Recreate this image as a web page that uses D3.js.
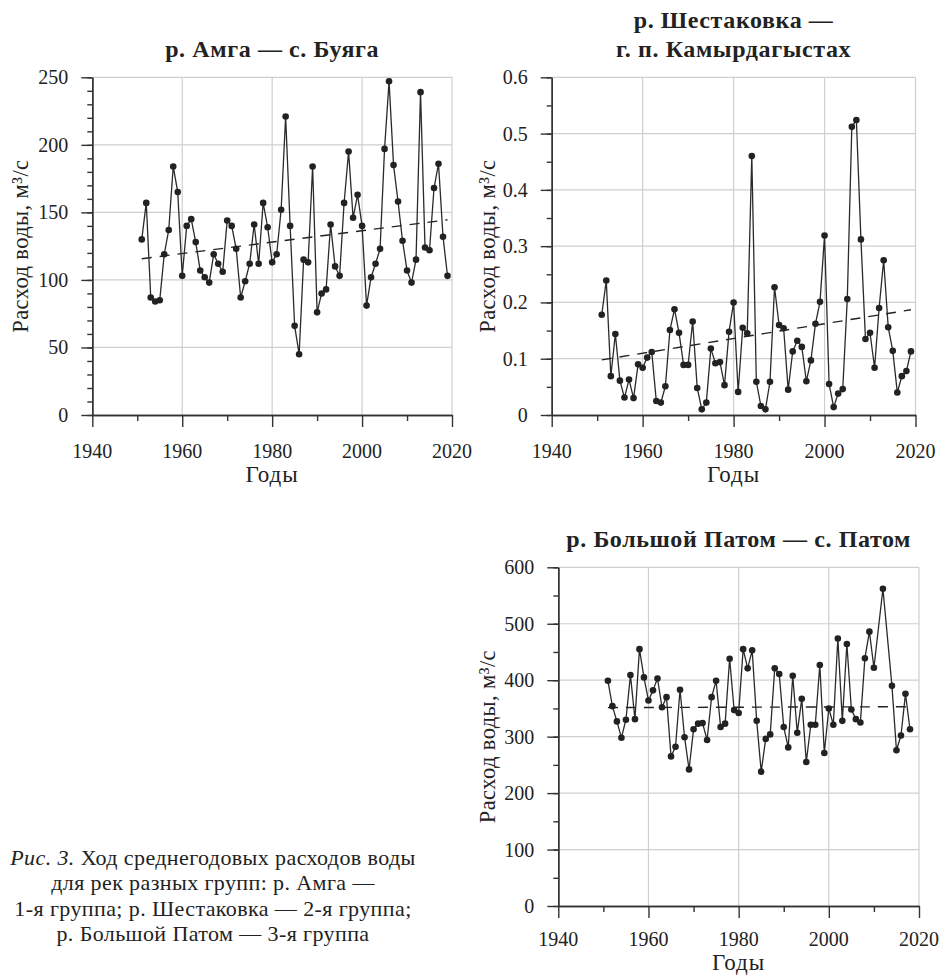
<!DOCTYPE html>
<html>
<head>
<meta charset="UTF-8">
<title>Ход среднегодовых расходов воды</title>
<style>
    body { margin: 0; padding: 0; background: #fff; }
</style>
</head>
<body>
<svg width="940" height="976" font-family="'Liberation Serif', 'Times New Roman', 'DejaVu Serif', serif"></svg>
<script src="https://cdn.jsdelivr.net/npm/d3@7/dist/d3.min.js"></script>
<script>
    // р. Амга — с. Буяга
    var amgaYears = [1951,1952,1953,1954,1955,1956,1957,1958,1959,1960,
        1961,1962,1963,1964,1965,1966,1967,1968,1969,1970,
        1971,1972,1973,1974,1975,1976,1977,1978,1979,1980,
        1981,1982,1983,1984,1985,1986,1987,1988,1989,1990,
        1991,1992,1993,1994,1995,1996,1997,1998,1999,2000,
        2001,2002,2003,2004,2005,2006,2007,2008,2009,2010,
        2011,2012,2013,2014,2015,2016,2017,2018,2019];
    var amgaFlow = [130,157,87,84,85,119,137,184,165,103,
        140,145,128,107,102,98,119,112,106,144,
        140,123,87,99,112,141,112,157,139,113,
        119,152,221,140,66,45,115,113,184,76,
        90,93,141,110,103,157,195,146,163,140,
        81,102,112,123,197,247,185,158,129,107,
        98,115,239,124,122,168,186,132,103];
    var amgaTrend = [[1951, 115.7], [2019, 144.5]];

    // р. Шестаковка — г. п. Камырдагыстах
    var shestYears = amgaYears.slice();
    var shestFlow = [0.178,0.239,0.069,0.144,0.061,0.031,0.063,0.030,0.090,0.084,
        0.102,0.112,0.025,0.022,0.051,0.151,0.188,0.146,0.089,0.089,
        0.166,0.048,0.010,0.022,0.118,0.092,0.094,0.053,0.148,0.200,
        0.041,0.155,0.145,0.460,0.059,0.016,0.010,0.059,0.227,0.160,
        0.154,0.045,0.113,0.132,0.121,0.060,0.097,0.162,0.201,0.319,
        0.055,0.014,0.038,0.046,0.206,0.512,0.524,0.312,0.135,0.146,
        0.084,0.190,0.275,0.156,0.114,0.040,0.069,0.078,0.113];
    var shestTrend = [[1951, 0.098], [2019, 0.187]];

    // р. Большой Патом — с. Патом (нет 2011 и 2013)
    var patomYears = [1951,1952,1953,1954,1955,1956,1957,1958,1959,1960,
        1961,1962,1963,1964,1965,1966,1967,1968,1969,1970,
        1971,1972,1973,1974,1975,1976,1977,1978,1979,1980,
        1981,1982,1983,1984,1985,1986,1987,1988,1989,1990,
        1991,1992,1993,1994,1995,1996,1997,1998,1999,2000,
        2001,2002,2003,2004,2005,2006,2007,2008,2009,2010,
        2012,2014,2015,2016,2017,2018];
    var patomFlow = [399,354,327,298,330,409,331,455,405,364,
        382,403,352,370,265,282,383,299,242,313,
        323,324,294,370,399,317,323,438,347,342,
        455,421,453,328,238,296,304,421,411,317,
        281,408,307,367,255,321,321,427,271,350,
        321,474,328,464,348,331,325,439,486,422,
        562,390,276,302,376,313];
    var patomTrend = [[1951, 351.5], [2018, 353]];

    var xTicks = [1940,1960,1980,2000,2020];
    var xMinorTicks = [1950,1970,1990,2010];
    var yLabel = "Расход воды, м³/с";
    var xLabel = "Годы";
    var caption = ["Ход среднегодовых расходов воды",
        "для рек разных групп: р. Амга —",
        "1-я группа; р. Шестаковка — 2-я группа;",
        "р. Большой Патом — 3-я группа"];

    var svg = d3.select("svg");

    var panels = [
        {title: ["р. Амга — с. Буяга"], titleY: [57], years: amgaYears, values: amgaFlow, trend: amgaTrend,
         yMax: 250, yStep: 50, yMinor: 10, fmt: d3.format("d"),
         left: 92.3, right: 452, bottom: 415, top: 77.3, labelX: 28, xLabelY: 482},
        {title: ["р. Шестаковка —", "г. п. Камырдагыстах"], titleY: [28, 57], years: shestYears, values: shestFlow, trend: shestTrend,
         yMax: 0.6, yStep: 0.1, yMinor: 0.05, fmt: function (d) { return d === 0 ? "0" : d3.format(".1f")(d); },
         left: 551.7, right: 915.5, bottom: 415, top: 77.3, labelX: 495, xLabelY: 482},
        {title: ["р. Большой Патом — с. Патом"], titleY: [547], years: patomYears, values: patomFlow, trend: patomTrend,
         yMax: 600, yStep: 100, yMinor: 50, fmt: d3.format("d"),
         left: 558.3, right: 919, bottom: 906, top: 567.3, labelX: 495, xLabelY: 970}
    ];

    panels.forEach(drawPanel);

    function drawPanel(p) {
        var x = d3.scaleLinear().domain([1940, 2020]).range([p.left, p.right]);
        var y = d3.scaleLinear().domain([0, p.yMax]).range([p.bottom, p.top]);
        var n = Math.round(p.yMax / p.yStep);
        var yTicks = d3.range(0, n + 1).map(function (i) { return +(i * p.yStep).toFixed(3); });
        var nm = Math.round(p.yMax / p.yMinor);
        var yMinor = d3.range(0, nm + 1).map(function (i) { return +(i * p.yMinor).toFixed(3); });

        var g = svg.append("g");

        // grid
        g.append("g").selectAll("line")
            .data(yTicks.slice(1))
            .enter().append("line")
            .attr("x1", p.left).attr("x2", p.right)
            .attr("y1", function (d) { return y(d); })
            .attr("y2", function (d) { return y(d); })
            .attr("stroke", "#cfcfcf").attr("stroke-width", 1.2);
        g.append("g").selectAll("line")
            .data(xTicks.slice(1))
            .enter().append("line")
            .attr("x1", function (d) { return x(d); })
            .attr("x2", function (d) { return x(d); })
            .attr("y1", p.top).attr("y2", p.bottom)
            .attr("stroke", "#cfcfcf").attr("stroke-width", 1.2);

        // axes
        var axStyle = function (sel) {
            sel.select(".domain").attr("stroke", "#333").attr("stroke-width", 1.4);
            sel.selectAll(".tick line").attr("stroke", "#333").attr("stroke-width", 1.4);
            sel.selectAll(".tick text").remove();
        };
        g.append("g").attr("transform", "translate(" + p.left + ",0)")
            .call(d3.axisLeft(y).tickValues(yMinor).tickSize(5).tickSizeOuter(0).tickFormat(""))
            .call(axStyle);
        g.append("g").attr("transform", "translate(" + p.left + ",0)")
            .call(d3.axisLeft(y).tickValues(yTicks).tickSize(11).tickSizeOuter(0).tickFormat(""))
            .call(axStyle);
        g.append("g").attr("transform", "translate(0," + p.bottom + ")")
            .call(d3.axisBottom(x).tickValues(xMinorTicks).tickSize(6).tickSizeOuter(0).tickFormat(""))
            .call(axStyle);
        g.append("g").attr("transform", "translate(0," + p.bottom + ")")
            .call(d3.axisBottom(x).tickValues(xTicks).tickSize(12).tickSizeOuter(0).tickFormat(""))
            .call(axStyle);

        // tick labels
        g.append("g").selectAll("text")
            .data(yTicks)
            .enter().append("text")
            .attr("x", p.left - 24)
            .attr("y", function (d) { return y(d) + 7; })
            .attr("text-anchor", "end")
            .attr("fill", "#222")
            .style("font-size", "20px")
            .text(p.fmt);
        g.append("g").selectAll("text")
            .data(xTicks)
            .enter().append("text")
            .attr("x", function (d) { return x(d); })
            .attr("y", p.xLabelY - 24)
            .attr("text-anchor", "middle")
            .attr("fill", "#222")
            .style("font-size", "20px")
            .text(function (d) { return d; });

        // axis titles
        g.append("text")
            .attr("transform", "translate(" + p.labelX + "," + ((p.top + p.bottom) / 2) + ")rotate(-90)")
            .attr("text-anchor", "middle")
            .attr("fill", "#222")
            .style("font-size", "22.5px")
            .style("letter-spacing", "0.4px")
            .text(yLabel);
        g.append("text")
            .attr("x", (p.left + p.right) / 2)
            .attr("y", p.xLabelY)
            .attr("text-anchor", "middle")
            .attr("fill", "#222")
            .style("font-size", "23px")
            .style("letter-spacing", "1px")
            .text(xLabel);

        // chart title
        g.append("g").selectAll("text")
            .data(p.title)
            .enter().append("text")
            .attr("x", (p.left + p.right) / 2)
            .attr("y", function (d, i) { return p.titleY[i]; })
            .attr("text-anchor", "middle")
            .attr("fill", "#222")
            .style("font-size", "24px")
            .style("letter-spacing", "0.6px")
            .style("font-weight", "bold")
            .text(function (d) { return d; });

        var pts = p.years.map(function (yr, i) { return [yr, p.values[i]]; });

        // linear trend (dashed)
        g.append("path")
            .datum(p.trend)
            .attr("fill", "none")
            .attr("stroke", "#222").attr("stroke-width", 1.4)
            .attr("stroke-dasharray", "10,8")
            .attr("d", d3.line()
                .x(function (d) { return x(d[0]); })
                .y(function (d) { return y(d[1]); }));

        // series
        g.append("path")
            .datum(pts)
            .attr("fill", "none")
            .attr("stroke", "#2a2a2a")
            .attr("stroke-width", 1.3)
            .attr("d", d3.line()
                .x(function (d) { return x(d[0]); })
                .y(function (d) { return y(d[1]); }));
        g.append("g").selectAll("circle")
            .data(pts)
            .enter().append("circle")
            .attr("cx", function (d) { return x(d[0]); })
            .attr("cy", function (d) { return y(d[1]); })
            .attr("r", 3.3)
            .attr("fill", "#222");
    }

    // caption
    var cap = svg.append("text")
        .attr("text-anchor", "middle")
        .attr("fill", "#222")
        .style("font-size", "22px")
        .style("letter-spacing", "0.4px");
    var line1 = cap.append("tspan").attr("x", 213).attr("y", 865);
    line1.append("tspan").style("font-style", "italic").text("Рис. 3. ");
    line1.append("tspan").text(caption[0]);
    caption.slice(1).forEach(function (t, i) {
        cap.append("tspan").attr("x", 213).attr("y", 890 + i * 25.5).text(t);
    });
</script>
</body>
</html>
